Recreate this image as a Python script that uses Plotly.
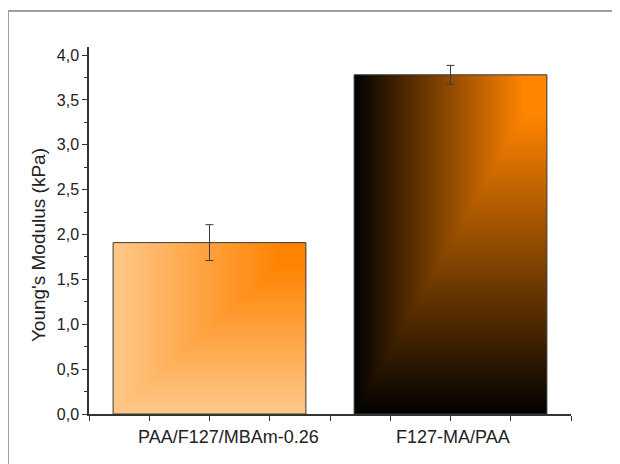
import plotly.graph_objects as go

# ---- data ----
categories = ["PAA/F127/MBAm-0.26", "F127-MA/PAA"]
positions = [1, 2]
modulus = [1.91, 3.78]
modulus_err = [0.20, 0.105]
y_title = "Young's Modulus (kPa)"
# gradient colours (base -> highlight) for each bar
base_colors = ["#FFC88A", "#000000"]
top_colors = ["#FF8200", "#FF8400"]
bar_width = 0.8
label_xshift = [19, 2]  # pixel offsets of category labels, as in the original

fig = go.Figure()

# gradient-filled bars: whole bar with horizontal gradient,
# lower-right triangle with vertical gradient (Origin "corner" gradient look)
for c, v, c0, c1 in zip(positions, modulus, base_colors, top_colors):
    x0, x1 = c - bar_width / 2, c + bar_width / 2
    cs = [[0, c0], [0.88, c1], [1, c1]]
    fig.add_trace(go.Scatter(
        x=[x0, x1, x1, x0, x0], y=[0, 0, v, v, 0],
        mode="none", fill="toself",
        fillgradient=dict(type="horizontal", colorscale=cs),
        hoverinfo="skip", showlegend=False))
    fig.add_trace(go.Scatter(
        x=[x0, x1, x1, x0], y=[0, 0, v, 0],
        mode="none", fill="toself",
        fillgradient=dict(type="vertical", colorscale=cs),
        hoverinfo="skip", showlegend=False))
    fig.add_trace(go.Scatter(
        x=[x0, x1, x1, x0, x0], y=[0, 0, v, v, 0],
        mode="lines", line=dict(color="#3a3a3a", width=1),
        hoverinfo="skip", showlegend=False))

# error bars
fig.add_trace(go.Scatter(
    x=positions, y=modulus, mode="markers",
    marker=dict(size=1, color="rgba(0,0,0,0)"),
    error_y=dict(type="data", array=modulus_err, color="#3a3a3a", thickness=1, width=4),
    showlegend=False))

# category labels
for p, t, dx in zip(positions, categories, label_xshift):
    fig.add_annotation(x=p, y=0, xref="x", yref="paper", text=t, showarrow=False,
                       xanchor="center", yanchor="middle", xshift=dx, yshift=-23,
                       font=dict(size=18, color="#222"))

# y-axis title
fig.add_annotation(x=-0.106, y=0.46, xref="paper", yref="paper", text=y_title,
                   showarrow=False, textangle=-90, xanchor="center", yanchor="middle",
                   font=dict(size=19, color="#222"))

# outer frame
fig.add_shape(type="rect", xref="paper", yref="paper",
              x0=-0.168, x1=1.12, y0=-0.16, y1=1.098,
              line=dict(color="#A0A0A0", width=2), fillcolor="rgba(0,0,0,0)")

fig.update_layout(
    width=620, height=464,
    margin=dict(l=81, r=57, t=39, b=58),
    paper_bgcolor="white", plot_bgcolor="white",
    separators=",.",
    font=dict(family="Liberation Sans, Arial, sans-serif", color="#222"),
    xaxis=dict(range=[0.5, 2.5], tickvals=positions, showticklabels=False,
               ticks="outside", ticklen=5, tickwidth=1, tickcolor="#333",
               minor=dict(tick0=0.5, dtick=0.25, ticks="outside", ticklen=5,
                          tickwidth=1, tickcolor="#333"),
               showline=True, linecolor="#333", linewidth=1.5,
               showgrid=False, zeroline=False),
    yaxis=dict(range=[0, 4.09], tick0=0, dtick=0.5, tickformat=".1f",
               ticks="outside", ticklen=5, tickwidth=1, tickcolor="#333",
               minor=dict(dtick=0.25, ticks="outside", ticklen=3,
                          tickwidth=1, tickcolor="#333"),
               showline=True, linecolor="#333", linewidth=1.5,
               showgrid=False, zeroline=False,
               tickfont=dict(size=16)),
)

fig.write_html("out.html")
